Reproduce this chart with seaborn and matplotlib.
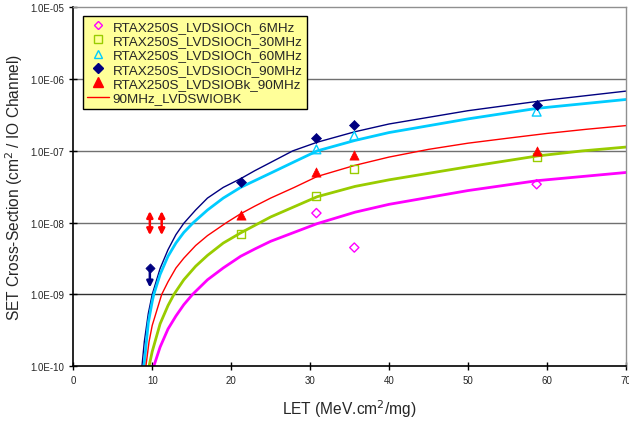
import matplotlib
matplotlib.use("Agg")
import matplotlib.pyplot as plt
import seaborn as sns
import pandas as pd
from matplotlib.lines import Line2D
from matplotlib.ticker import FixedLocator, NullLocator

# ---------------- data ----------------
labels = ["RTAX250S_LVDSIOCh_6MHz", "RTAX250S_LVDSIOCh_30MHz", "RTAX250S_LVDSIOCh_60MHz",
          "RTAX250S_LVDSIOCh_90MHz", "RTAX250S_LVDSIOBk_90MHz"]
fit_label = "90MHz_LVDSWIOBK"

x_6 = [30.8, 35.6, 58.7]
y_6 = [1.36e-8, 4.5e-9, 3.43e-8]
x_30 = [21.2, 30.8, 35.6, 58.7]
y_30 = [6.9e-9, 2.35e-8, 5.6e-8, 8.3e-8]
x_60 = [30.8, 35.6, 58.7]
y_60 = [1.05e-7, 1.62e-7, 3.52e-7]
x_90 = [21.2, 30.8, 35.6, 58.7]
y_90 = [3.69e-8, 1.51e-7, 2.29e-7, 4.37e-7]
x_bk = [21.2, 30.8, 35.6, 58.7]
y_bk = [1.28e-8, 5.0e-8, 8.8e-8, 1.0e-7]

# fitted curves
fx_90 = [8.7, 9.0, 9.5, 10, 11, 12, 13, 14, 15.5, 17, 19, 21.2, 23, 25, 27.8, 30.9, 35.7, 40,
         50, 60, 70]
fy_90 = [1e-10, 2.2e-10, 5.4e-10, 1e-9, 2.3e-9, 4.2e-9, 6.8e-9, 9.8e-9, 1.5e-8, 2.2e-8, 3.1e-8,
         4.1e-8, 5.3e-8, 6.9e-8, 1e-7, 1.32e-7, 1.85e-7, 2.37e-7, 3.63e-7, 5.1e-7, 6.8e-7]
fx_60 = [8.95, 9.5, 10, 10.2, 11, 12, 13, 14, 15.2, 17, 19, 21.2, 23, 25, 28, 30.9, 35.7, 40,
         50, 58.8, 70]
fy_60 = [1e-10, 4e-10, 8e-10, 1e-9, 1.9e-9, 3.4e-9, 5.2e-9, 7.3e-9, 1e-8, 1.5e-8, 2.2e-8, 3.1e-8,
         3.85e-8, 4.9e-8, 7.05e-8, 1.0e-7, 1.4e-7, 1.8e-7, 2.79e-7, 3.92e-7, 5.2e-7]
fx_bk = [9.2, 9.6, 10, 11.2, 12, 13, 14, 15.5, 17, 19.4, 21.2, 23, 25, 28, 30.9, 35.7, 40, 45,
         50, 55, 60, 65, 70]
fy_bk = [1e-10, 2.2e-10, 3.7e-10, 1e-9, 1.5e-9, 2.33e-9, 3.2e-9, 4.8e-9, 6.6e-9, 1e-8, 1.33e-8,
         1.7e-8, 2.2e-8, 3.1e-8, 4.4e-8, 6.3e-8, 8.2e-8, 1.05e-7, 1.28e-7, 1.5e-7, 1.75e-7,
         2.0e-7, 2.25e-7]
fx_30 = [9.6, 10, 11, 12, 12.75, 13, 14, 15.5, 17, 19, 21.2, 25, 30.9, 35.7, 40, 50, 58.8,
         64.5, 70]
fy_30 = [1e-10, 1.6e-10, 3.9e-10, 7e-10, 1e-9, 1.1e-9, 1.6e-9, 2.47e-9, 3.5e-9, 5.2e-9, 7.2e-9,
         1.2e-8, 2.3e-8, 3.2e-8, 3.95e-8, 6.0e-8, 8.5e-8, 1e-7, 1.13e-7]
fx_6 = [10.2, 11, 12, 13, 14, 15.1, 17, 19, 21.2, 23, 25, 30.9, 35.7, 40, 50, 58.8, 70]
fy_6 = [1e-10, 1.85e-10, 3.3e-10, 5.0e-10, 7.2e-10, 1e-9, 1.6e-9, 2.34e-9, 3.4e-9, 4.3e-9,
        5.5e-9, 9.7e-9, 1.4e-8, 1.8e-8, 2.8e-8, 3.85e-8, 5.0e-8]

# limit arrows
red_arrow_x = [9.7, 11.2]
red_arrow_lo = 6.7e-9
red_arrow_hi = 1.45e-8
navy_arrow_x = 9.7
navy_arrow_top = 2.3e-9
navy_arrow_bot = 1.25e-9

yticks = [1e-10, 1e-9, 1e-8, 1e-7, 1e-6, 1e-5]
ytick_labels = ["1.0E-10", "1.0E-09", "1.0E-08", "1.0E-07", "1.0E-06", "1.0E-05"]
xticks = [0, 10, 20, 30, 40, 50, 60, 70]

c_mag = "#FF00FF"
c_grn = "#99CC00"
c_cyn = "#00CCFF"
c_nav = "#000080"
c_red = "#FF0000"

# ---------------- plot ----------------
sns.set_style("white")
plt.rcParams["font.family"] = ["Liberation Sans", "DejaVu Sans"]

fig = plt.figure(figsize=(6.29, 4.27), dpi=100)
ax = fig.add_axes([0.1165, 0.140, 0.8785, 0.8405])
ax.set_yscale("log")
ax.set_xlim(0, 70)
ax.set_ylim(1e-10, 1e-5)

grid_colors = {1e-9: "#303030", 1e-8: "#707070", 1e-7: "#707070", 1e-6: "#707070"}
for yv, gc in grid_colors.items():
    ax.axhline(yv, color=gc, lw=1.0, zorder=0)

# fitted curves
curves = [(fx_90, fy_90, c_nav, 1.0), (fx_60, fy_60, c_cyn, 2.0), (fx_bk, fy_bk, c_red, 1.0),
          (fx_30, fy_30, c_grn, 2.0), (fx_6, fy_6, c_mag, 2.0)]
for fx, fy, col, lw in curves:
    sns.lineplot(x=fx, y=fy, ax=ax, color=col, lw=lw, sort=False, estimator=None, zorder=2)

# scatter points
sns.scatterplot(x=x_6, y=y_6, ax=ax, marker="D", s=22, fc="none", ec=c_mag, linewidth=1.0, zorder=4)
sns.scatterplot(x=x_30, y=y_30, ax=ax, marker="s", s=34, fc="none", ec=c_grn, linewidth=1.0, zorder=4)
sns.scatterplot(x=x_60, y=y_60, ax=ax, marker="^", s=40, fc="none", ec=c_cyn, linewidth=1.0, zorder=4)
sns.scatterplot(x=x_90, y=y_90, ax=ax, marker="D", s=26, color=c_nav, ec=c_nav, linewidth=0.5, zorder=5)
sns.scatterplot(x=x_bk, y=y_bk, ax=ax, marker="^", s=44, color=c_red, ec=c_red, linewidth=0.5, zorder=5)

# limit arrows
for xa in red_arrow_x:
    ax.annotate("", xy=(xa, red_arrow_hi), xytext=(xa, red_arrow_lo),
                arrowprops=dict(arrowstyle="<|-|>", color=c_red, lw=1.8,
                                mutation_scale=9, shrinkA=0, shrinkB=0), zorder=6)
ax.annotate("", xy=(navy_arrow_x, navy_arrow_bot), xytext=(navy_arrow_x, navy_arrow_top),
            arrowprops=dict(arrowstyle="-|>", color=c_nav, lw=1.8,
                            mutation_scale=9, shrinkA=0, shrinkB=0), zorder=6)
sns.scatterplot(x=[navy_arrow_x], y=[navy_arrow_top], ax=ax, marker="D", s=22, color=c_nav,
                ec=c_nav, linewidth=0.5, zorder=6)

# axes styling
ax.yaxis.set_major_locator(FixedLocator(yticks))
ax.yaxis.set_minor_locator(NullLocator())
ax.set_yticklabels(ytick_labels)
ax.set_xticks(xticks)
ax.tick_params(axis="both", which="major", direction="inout", length=6, width=1,
               labelsize=7, color="black", left=True, bottom=True)
ax.tick_params(axis="x", pad=3)
for side in ["left", "bottom"]:
    ax.spines[side].set_color("black")
    ax.spines[side].set_linewidth(1.2)
for side in ["top", "right"]:
    ax.spines[side].set_color("#909090")
    ax.spines[side].set_linewidth(1.0)

ax.set_xlabel("LET (MeV.cm$^2$/mg)", fontsize=11.2)
ax.set_ylabel("SET Cross-Section (cm$^2$ / IO Channel)", fontsize=11.2)
ax.xaxis.set_label_coords(0.5, -0.086)
ax.yaxis.set_label_coords(-0.088, 0.5)

handles = [
    Line2D([], [], ls="none", marker="D", ms=4.5, mfc="none", mec=c_mag, mew=1.0),
    Line2D([], [], ls="none", marker="s", ms=5.5, mfc="none", mec=c_grn, mew=1.0),
    Line2D([], [], ls="none", marker="^", ms=6, mfc="none", mec=c_cyn, mew=1.0),
    Line2D([], [], ls="none", marker="D", ms=5, mfc=c_nav, mec=c_nav),
    Line2D([], [], ls="none", marker="^", ms=6.5, mfc=c_red, mec=c_red),
    Line2D([], [], color=c_red, lw=1.0),
]
leg = ax.legend(handles, labels + [fit_label], loc="upper left", bbox_to_anchor=(0.017, 0.976),
                fontsize=9.7, frameon=True, fancybox=False, handlelength=1.6, handletextpad=0.3,
                labelspacing=0.14, borderpad=0.32, borderaxespad=0)
leg.get_frame().set_facecolor("#FFFF99")
leg.get_frame().set_edgecolor("black")
leg.get_frame().set_linewidth(1.0)
leg.get_frame().set_alpha(1.0)

fig.savefig("out.png", dpi=100)
